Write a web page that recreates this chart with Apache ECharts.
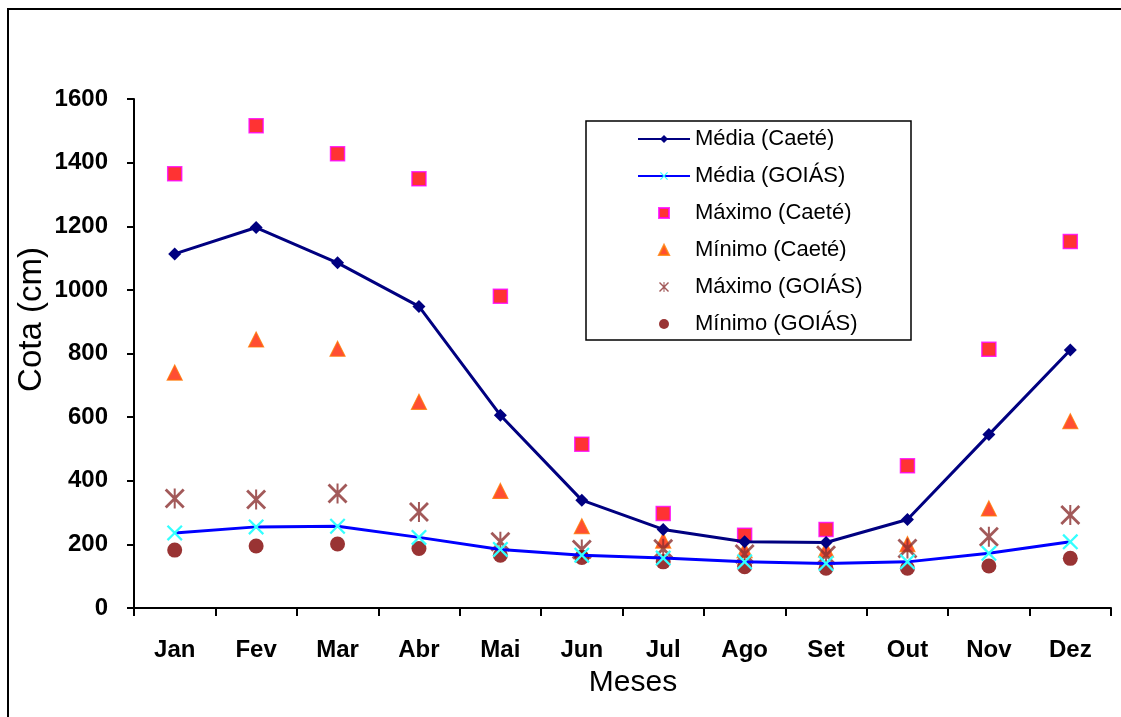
<!DOCTYPE html>
<html>
<head>
<meta charset="utf-8">
<script src="https://cdn.jsdelivr.net/npm/echarts@6/dist/echarts.min.js"></script>
<style>
  html, body { margin: 0; padding: 0; background: #fff; }
  #chart { width: 1121px; height: 717px; }
</style>
</head>
<body>
<div id="chart"></div>
<script>
// Monthly water levels (cm): Caeté vs GOIÁS stations
const months = ['Jan', 'Fev', 'Mar', 'Abr', 'Mai', 'Jun', 'Jul', 'Ago', 'Set', 'Out', 'Nov', 'Dez'];
const mediaCaete = [1113, 1196, 1085, 948, 606, 339, 247, 208, 206, 278, 545, 811];
const mediaGoias = [236, 255, 257, 222, 184, 166, 157, 145, 140, 145, 172, 208];
const maximoCaete = [1365, 1516, 1428, 1349, 980, 515, 297, 229, 247, 447, 813, 1152];
const minimoCaete = [740, 844, 815, 648, 368, 257, 212, 182, 184, 201, 313, 587];
const maximoGoias = [344, 341, 360, 302, 208, 184, 186, 170, 166, 187, 224, 292];
const minimoGoias = [182, 195, 201, 187, 166, 159, 145, 130, 125, 125, 132, 156];
const yTicks = { min: 0, max: 1600, interval: 200 };

const FONT = "'Liberation Sans', Arial, sans-serif";

// marker shapes
const crossPath = 'path://M0,2 L2,0 L10,8 L18,0 L20,2 L12,10 L20,18 L18,20 L10,12 L2,20 L0,18 L8,10 Z';
const starPath = 'path://M0,2 L2,0 L10,8 L18,0 L20,2 L12,10 L20,18 L18,20 L10,12 L2,20 L0,18 L8,10 Z M9,0 L11,0 L11,20 L9,20 Z';
const squarePath = 'path://M0,0 L10,0 L10,10 L0,10 Z';
const trianglePath = 'path://M5,0 L10,10 L0,10 Z';

const chart = echarts.init(document.getElementById('chart'), null, { renderer: 'canvas' });

chart.setOption({
  backgroundColor: '#ffffff',
  animation: false,
  textStyle: { fontFamily: FONT },
  graphic: [
    {
      type: 'rect', silent: true, z: 0,
      shape: { x: 8, y: 9, width: 1300, height: 900 },
      style: { fill: null, stroke: '#000', lineWidth: 2 }
    },
    {
      type: 'rect', silent: true, z: 0,
      shape: { x: 586, y: 121, width: 325, height: 219 },
      style: { fill: '#fff', stroke: '#000', lineWidth: 1.5 }
    }
  ],
  legend: {
    orient: 'vertical',
    left: 586,
    top: 121,
    padding: [7, 10, 8, 51],
    itemWidth: 52,
    itemHeight: 10,
    itemGap: 15,
    symbolKeepAspect: true,
    selectedMode: false,
    textStyle: { fontSize: 22, color: '#000', fontFamily: FONT },
    data: [
      { name: 'Média (Caeté)' },
      { name: 'Média (GOIÁS)' },
      { name: 'Máximo (Caeté)', icon: squarePath },
      { name: 'Mínimo (Caeté)', icon: trianglePath },
      { name: 'Máximo (GOIÁS)', icon: starPath },
      { name: 'Mínimo (GOIÁS)', icon: 'circle' }
    ]
  },
  grid: { left: 134, top: 99, width: 977, height: 509, containLabel: false },
  xAxis: {
    type: 'category',
    data: months,
    boundaryGap: true,
    name: 'Meses',
    nameLocation: 'middle',
    nameGap: 60,
    nameMoveOverlap: false,
    nameTextStyle: { fontSize: 30, color: '#000', fontFamily: FONT, padding: [0, 0, 0, 21] },
    axisLine: { lineStyle: { color: '#000', width: 2 } },
    axisTick: { show: true, length: 8, lineStyle: { color: '#000', width: 2 } },
    axisLabel: { margin: 30, fontSize: 24, fontWeight: 'bold', color: '#000', fontFamily: FONT },
    splitLine: { show: false }
  },
  yAxis: {
    type: 'value',
    min: yTicks.min,
    max: yTicks.max,
    interval: yTicks.interval,
    name: 'Cota (cm)',
    nameLocation: 'middle',
    nameRotate: 90,
    nameGap: 86,
    nameMoveOverlap: false,
    nameTextStyle: { fontSize: 33, color: '#000', fontFamily: FONT, padding: [0, 0, 0, 68] },
    axisLine: { show: true, lineStyle: { color: '#000', width: 2 } },
    axisTick: { show: true, length: 7, lineStyle: { color: '#000', width: 2 } },
    axisLabel: {
      margin: 26, fontSize: 24, fontWeight: 'bold', color: '#000', fontFamily: FONT,
      formatter: (v) => String(v)
    },
    splitLine: { show: false }
  },
  series: [
    {
      name: 'Média (Caeté)', type: 'line', data: mediaCaete,
      symbol: 'diamond', symbolSize: 13, showAllSymbol: true,
      lineStyle: { color: '#000080', width: 3 },
      itemStyle: { color: '#000080' }
    },
    {
      name: 'Média (GOIÁS)', type: 'line', data: mediaGoias,
      symbol: crossPath, symbolSize: 16, showAllSymbol: true,
      lineStyle: { color: '#0000ff', width: 3 },
      itemStyle: { color: '#33ffff' }
    },
    {
      name: 'Máximo (Caeté)', type: 'scatter', data: maximoCaete,
      symbol: 'rect', symbolSize: 14,
      itemStyle: { color: '#ff0000', borderColor: '#ff00ff', borderWidth: 1.5 }
    },
    {
      name: 'Mínimo (Caeté)', type: 'scatter', data: minimoCaete,
      symbol: 'triangle', symbolSize: 15,
      itemStyle: { color: '#ff2200', borderColor: '#ff7700', borderWidth: 1.2 }
    },
    {
      name: 'Máximo (GOIÁS)', type: 'scatter', data: maximoGoias,
      symbol: starPath, symbolSize: 20,
      itemStyle: { color: '#8b3030' }
    },
    {
      name: 'Mínimo (GOIÁS)', type: 'scatter', data: minimoGoias,
      symbol: 'circle', symbolSize: 15,
      itemStyle: { color: '#800000' }
    }
  ]
});
</script>
</body>
</html>
